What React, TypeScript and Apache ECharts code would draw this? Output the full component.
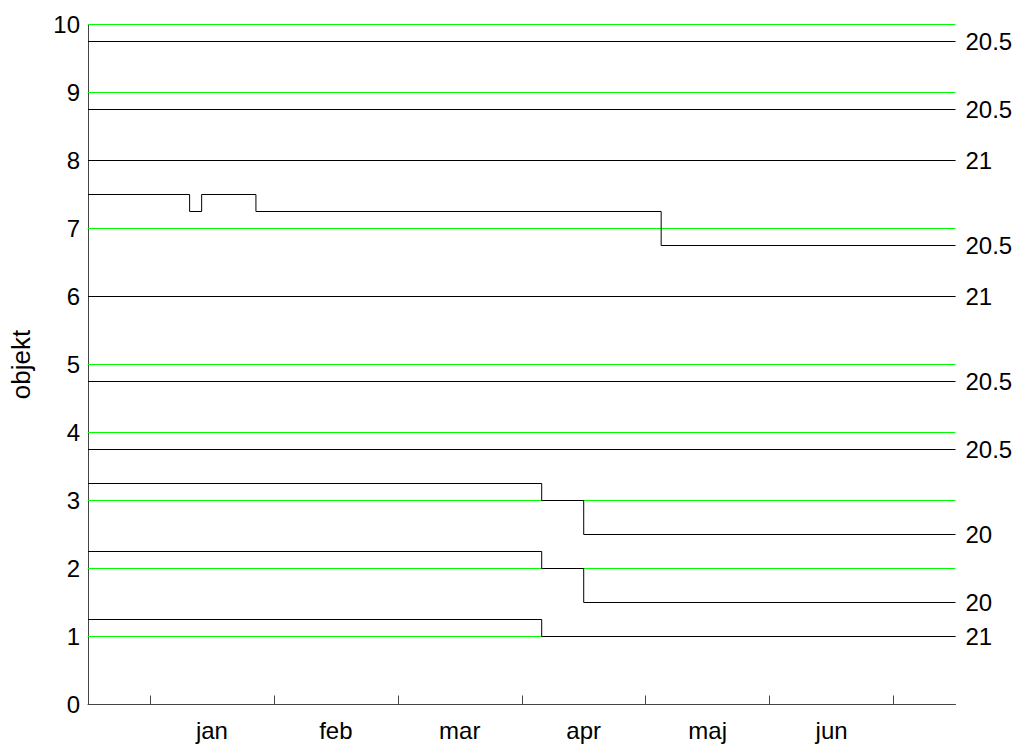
import React, { useEffect, useRef } from "react";
import * as echarts from "echarts";

// x axis in months (0..7), month boundaries at 0.5 .. 6.5
const monthLabels = ["jan", "feb", "mar", "apr", "maj", "jun"];
const monthCenters = [1, 2, 3, 4, 5, 6];
const monthBoundaries = [0.5, 1.5, 2.5, 3.5, 4.5, 5.5, 6.5];
const xMin = 0;
const xMax = 7;

// y axis
const yMin = 0;
const yMax = 10;

// green reference levels (one per object)
const greenLevels = [1, 2, 3, 4, 5, 6, 7, 8, 9, 10];

// objects 1..10: step breakpoints (in months) and levels
const objectNames = ["1", "2", "3", "4", "5", "6", "7", "8", "9", "10"];
const stepBreaks: number[][] = [
  [3.661],
  [3.661, 4.0],
  [3.661, 4.0],
  [],
  [],
  [],
  [0.82, 0.917, 1.355, 4.625],
  [],
  [],
  [],
];
const stepLevels: number[][] = [
  [1.25, 1.0],
  [2.25, 2.0, 1.5],
  [3.25, 3.0, 2.5],
  [3.75],
  [4.75],
  [6.0],
  [7.5, 7.25, 7.5, 7.25, 6.75],
  [8.0],
  [8.75],
  [9.75],
];
const endLabels = ["21", "20", "20", "20.5", "20.5", "21", "20.5", "21", "20.5", "20.5"];

const FONT = "'Liberation Sans', Arial, Helvetica, sans-serif";
const FS = 24;

function buildSteps(breaks: number[], levels: number[]) {
  const pts: number[][] = [[xMin, levels[0]]];
  breaks.forEach((b, i) => {
    pts.push([b, levels[i]]);
    pts.push([b, levels[i + 1]]);
  });
  pts.push([xMax, levels[levels.length - 1]]);
  return pts;
}

export default function App() {
  const ref = useRef<HTMLDivElement>(null);
  useEffect(() => {
    if (!ref.current) return;
    const chart = echarts.init(ref.current, null, { renderer: "svg" });
    const greenSeries = greenLevels.map((lv) => ({
      name: "ref " + lv,
      type: "line",
      data: [
        [xMin, lv],
        [xMax, lv],
      ],
      showSymbol: false,
      symbol: "none",
      silent: true,
      lineStyle: { color: "#00ff00", width: 1 },
      z: 2,
    }));
    const blackSeries = objectNames.map((name, i) => ({
      name: "objekt " + name,
      type: "line",
      data: buildSteps(stepBreaks[i], stepLevels[i]),
      showSymbol: false,
      symbol: "none",
      silent: true,
      lineStyle: { color: "#000", width: 1 },
      z: 3,
      endLabel: {
        show: true,
        formatter: endLabels[i],
        distance: 10,
        color: "#000",
        fontSize: FS,
        fontFamily: FONT,
      },
    }));
    chart.setOption({
      animation: false,
      backgroundColor: "#fff",
      grid: { left: 87.5, right: 66.5, top: 24.5, bottom: 42.5, containLabel: false },
      xAxis: {
        type: "value",
        min: xMin,
        max: xMax,
        axisLine: { show: true, lineStyle: { color: "#444", width: 1 } },
        axisTick: {
          show: true,
          inside: true,
          length: 9,
          customValues: monthBoundaries,
          lineStyle: { color: "#444" },
        },
        axisLabel: {
          show: true,
          customValues: monthCenters,
          formatter: (v: number) => monthLabels[Math.round(v) - 1] ?? "",
          color: "#000",
          fontSize: FS,
          fontFamily: FONT,
          margin: 14,
        },
        splitLine: { show: false },
      },
      yAxis: {
        type: "value",
        min: yMin,
        max: yMax,
        interval: 1,
        name: "objekt",
        nameLocation: "middle",
        nameRotate: 90,
        nameGap: 54,
        nameTextStyle: { color: "#000", fontSize: 26, fontFamily: FONT },
        axisLine: { show: true, lineStyle: { color: "#444", width: 1 } },
        axisTick: { show: true, inside: true, length: 8, lineStyle: { color: "#444" } },
        axisLabel: { color: "#000", fontSize: FS, fontFamily: FONT, margin: 8 },
        splitLine: { show: false },
      },
      series: [...greenSeries, ...blackSeries],
    });
    return () => chart.dispose();
  }, []);
  return (
    <div
      ref={ref}
      style={{ position: "fixed", left: 0, top: 0, width: 1022, height: 747, background: "#fff" }}
    />
  );
}
